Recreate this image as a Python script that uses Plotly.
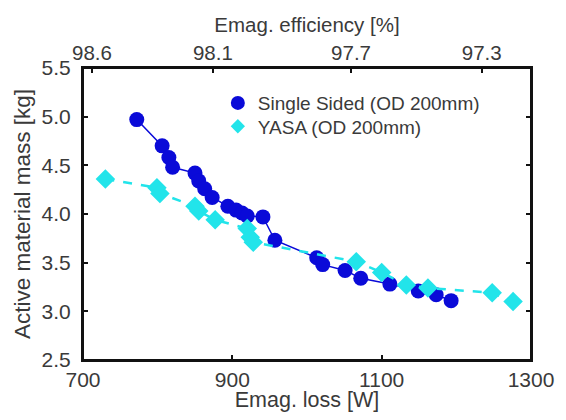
import plotly.graph_objects as go

# Single Sided (OD 200mm)
ss_loss = [772, 806, 815, 820, 850, 855, 863, 873, 894, 905, 913, 920, 941, 957,
           1013, 1021, 1051, 1072, 1111, 1149, 1173, 1193]
ss_mass = [4.97, 4.70, 4.58, 4.48, 4.42, 4.34, 4.26, 4.17, 4.08, 4.04, 4.01, 3.98, 3.97, 3.73,
           3.55, 3.48, 3.42, 3.34, 3.28, 3.21, 3.17, 3.11]

# YASA (OD 200mm)
ya_loss = [730, 799, 803, 850, 855, 877, 920, 924, 928, 1066, 1100, 1133, 1162, 1248, 1276]
ya_mass = [4.36, 4.27, 4.21, 4.08, 4.03, 3.94, 3.85, 3.76, 3.71, 3.51, 3.40, 3.27, 3.24, 3.19, 3.10]

x_ticks = [700, 900, 1100, 1300]
y_ticks = [2.5, 3.0, 3.5, 4.0, 4.5, 5.0, 5.5]
eff_tick_pos = [712, 874, 1059, 1234]
eff_tick_text = ["98.6", "98.1", "97.7", "97.3"]

BLUE = "#0a0ad8"
CYAN = "#22e4ea"
FONT = "Liberation Sans"
TXT = "#3a3a3a"
FRAME = "#111111"

fig = go.Figure()
fig.add_trace(go.Scatter(x=ss_loss, y=ss_mass, mode="lines+markers", showlegend=False,
                         line=dict(color=BLUE, width=1.5),
                         marker=dict(symbol="circle", size=15, color=BLUE)))
fig.add_trace(go.Scatter(x=ya_loss, y=ya_mass, mode="lines+markers", showlegend=False,
                         line=dict(color=CYAN, width=2.5, dash="dash"),
                         marker=dict(symbol="diamond", size=15, color=CYAN)))
# legend-only entries (markers only, as in reference)
fig.add_trace(go.Scatter(x=[None], y=[None], mode="markers", name="Single Sided (OD 200mm)",
                         legend="legend",
                         marker=dict(symbol="circle", size=14, color=BLUE)))
fig.add_trace(go.Scatter(x=[None], y=[None], mode="markers", name="YASA (OD 200mm)",
                         legend="legend2",
                         marker=dict(symbol="diamond", size=11, color=CYAN)))
# invisible trace to activate top axis
fig.add_trace(go.Scatter(x=[None], y=[None], xaxis="x2", showlegend=False, hoverinfo="skip"))

common = dict(linecolor=FRAME, linewidth=2, ticks="inside", ticklen=5, tickwidth=1.5,
              tickcolor=FRAME, showgrid=False, zeroline=False, automargin=False)

leg_common = dict(xanchor="left", yanchor="middle", bgcolor="rgba(0,0,0,0)",
                  borderwidth=0, font=dict(family=FONT, size=19, color=TXT))

# the page body adds an 8px offset; figure is sized so the plot box lands at x 83-531, y 68-360
fig.update_layout(
    width=550, height=404,
    margin=dict(l=75, r=27, t=60, b=52),
    plot_bgcolor="white", paper_bgcolor="white",
    font=dict(family=FONT, size=20, color=TXT),
    xaxis=dict(range=[700, 1300], tickvals=x_ticks, showline=True, mirror=True,
               tickfont=dict(size=21), ticklabelstandoff=0,
               title=dict(text="Emag. loss [W]", standoff=2, font=dict(size=21.5)),
               **common),
    xaxis2=dict(range=[700, 1300], overlaying="x", side="top", tickvals=eff_tick_pos,
                ticktext=eff_tick_text, showline=False,
                tickfont=dict(size=20.5), ticklabelstandoff=3,
                title=dict(text="Emag. efficiency [%]", standoff=2, font=dict(size=20.5)),
                **common),
    yaxis=dict(range=[2.5, 5.5], tickvals=y_ticks, tickformat=".1f", showline=True,
               mirror="ticks", tickfont=dict(size=21), ticklabelstandoff=6,
               title=dict(text="Active material mass [kg]", standoff=5, font=dict(size=22.5)),
               **common),
    legend=dict(x=0.301, y=0.880, **leg_common),
    legend2=dict(x=0.301, y=0.800, **leg_common),
    shapes=[dict(type="rect", xref="paper", yref="paper", x0=0, x1=1, y0=0, y1=1,
                 line=dict(color=FRAME, width=2), layer="above")],
)

fig.write_html("out.html")
